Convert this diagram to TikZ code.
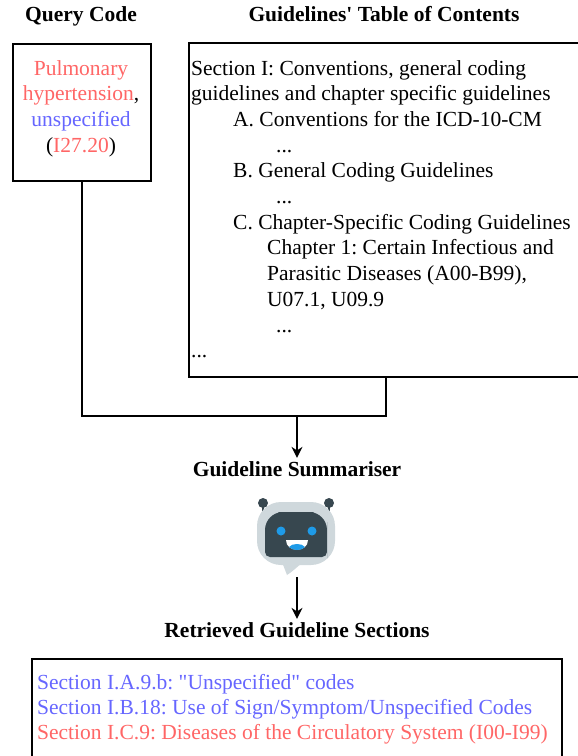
\documentclass[tikz,border=0pt]{standalone}
\usepackage{fontspec}
\setmainfont{Liberation Serif}[Ligatures=TeXOff]
\usetikzlibrary{arrows.meta}
\frenchspacing

\definecolor{codered}{HTML}{FF6666}
\definecolor{codeblue}{HTML}{6666FF}
\definecolor{botgrey}{HTML}{CFD8DC}
\definecolor{botdark}{HTML}{37474F}
\definecolor{boteye}{HTML}{1E9BE8}

\begin{document}
\begin{tikzpicture}[x=1pt, y=-1pt, >={Stealth[length=11pt, width=11pt]},
    every node/.style={font=\fontsize{21.5}{25.7}\selectfont, inner sep=0pt},
    heading/.style={font=\fontsize{21.5}{25.7}\selectfont\bfseries, anchor=base},
    box/.style={draw, line width=1.7pt},
    link/.style={line width=1.7pt},
    arrow/.style={->, line width=1.7pt}]

\useasboundingbox (0,0) rectangle (578,756);

% Headings
\node[heading] (qtitle) at (81,21) {Query Code};
\node[heading] (toctitle) at (384,21) {Guidelines' Table of Contents};

% Query code box
\node[box, minimum width=138pt, minimum height=137pt] (query) at (82,112.5) {};
\node[anchor=base, text=codered] (q1) at (81,75) {Pulmonary};
\node[anchor=base] (q2) at (81,100.7) {\textcolor{codered}{hypertension},};
\node[anchor=base, text=codeblue] (q3) at (81,126.4) {unspecified};
\node[anchor=base] (q4) at (81,152.1) {(\textcolor{codered}{I27.20})};

% Table of contents box
\node[box, minimum width=394pt, minimum height=334pt] (toc) at (386,210) {};
\foreach \ind/\txt [count=\i from 0] in {
    0/{Section I: Conventions, general coding},
    0/{guidelines and chapter specific guidelines},
    42/{A. Conventions for the ICD-10-CM},
    85/{...},
    42/{B. General Coding Guidelines},
    85/{...},
    42/{C. Chapter-Specific Coding Guidelines},
    76/{Chapter 1: Certain Infectious and},
    76/{Parasitic Diseases (A00-B99),},
    76/{U07.1, U09.9},
    85/{...},
    0/{...}}
  \node[anchor=base west] (toc-\i) at (191+\ind, 75+\i*25.7) {\txt};

% Join both inputs
\coordinate (join) at (297,416);
\draw[link] (query.south) |- (join) -| (toc.south);
\node[heading, inner sep=3pt] (summ) at (297,476) {Guideline Summariser};
\draw[arrow] (join) -- (summ.north);

% Robot
\draw[botdark, line width=2pt] (263,503) -- (263,520);
\draw[botdark, line width=2pt] (329,503) -- (329,520);
\fill[botdark] (263,503) circle[radius=5pt];
\fill[botdark] (329,503) circle[radius=5pt];
\fill[botgrey, rounded corners=24pt] (257,502) rectangle (335,565);
\fill[botgrey] (282,562) -- (287,575) .. controls (292,572) and (297,567) .. (302,563) -- cycle;
\fill[botdark] (296,512) [rounded corners=18pt] -- (327,512) -- (327,540) [rounded corners=5pt] -- (327,557) -- (265,557) -- (265,540) [rounded corners=18pt] -- (265,512) -- cycle;
\fill[boteye] (281,531) circle[radius=4.5pt];
\fill[boteye] (312,531) circle[radius=4.5pt];
\fill[white] (286,540) -- (308,540) .. controls (308,553) and (286,553) .. (286,540);
\fill[boteye] (289,547) .. controls (292,543) and (302,543) .. (305,547) .. controls (301,551) and (293,551) .. (289,547);
\coordinate (botbase) at (297,577);

% Output
\node[heading, inner sep=3pt] (retr) at (297,637) {Retrieved Guideline Sections};
\draw[arrow] (botbase) -- (retr.north);
\node[box, minimum width=530pt, minimum height=131pt] (retrbox) at (297,724.5) {};
\node[anchor=base west, text=codeblue] (r1) at (37,689) {Section I.A.9.b: "Unspecified" codes};
\node[anchor=base west, text=codeblue] (r2) at (37,714) {Section I.B.18: Use of Sign/Symptom/Unspecified Codes};
\node[anchor=base west, text=codered] (r3) at (37,739) {Section I.C.9: Diseases of the Circulatory System (I00-I99)};

\end{tikzpicture}
\end{document}
